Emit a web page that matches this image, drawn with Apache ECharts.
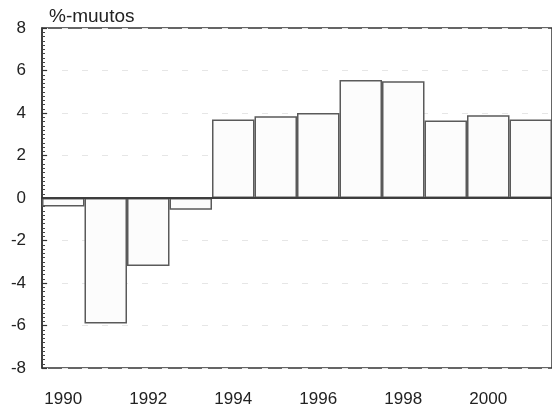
<!DOCTYPE html>
<html>
<head>
<meta charset="utf-8">
<script src="https://cdn.jsdelivr.net/npm/echarts@6/dist/echarts.min.js"></script>
<style>html,body{margin:0;padding:0;background:#fff}#c{width:552px;height:414px}</style>
</head>
<body>
<div id="c"></div>
<script>
var years = ['1990','1991','1992','1993','1994','1995','1996','1997','1998','1999','2000','2001'];
var changes = [-0.4, -5.9, -3.2, -0.55, 3.7, 3.85, 4.0, 5.55, 5.5, 3.65, 3.9, 3.7];
var yTicks = {min: -8, max: 8, interval: 2};
var unitLabel = '%-muutos';

var chart = echarts.init(document.getElementById('c'), null, {renderer: 'canvas'});
chart.setOption({
  animation: false,
  backgroundColor: '#fff',
  grid: {left: 42, right: -2, top: 28, bottom: 46, show: true, borderColor: '#333', borderWidth: 1.5, backgroundColor: 'transparent'},
  title: {text: unitLabel, left: 44, top: 2, textStyle: {fontFamily: 'Liberation Sans', fontSize: 19, fontWeight: 'normal', color: '#222'}},
  xAxis: {
    type: 'category', data: years,
    axisLine: {show: true, lineStyle: {color: '#333', width: 1.5}},
    axisTick: {show: false},
    axisLabel: {interval: 1, margin: 23, fontFamily: 'Liberation Sans', fontSize: 17, color: '#222'},
    splitLine: {show: false}
  },
  yAxis: {
    type: 'value', min: yTicks.min, max: yTicks.max, interval: yTicks.interval,
    axisLine: {show: true, lineStyle: {color: '#333', width: 1.5}},
    axisTick: {show: true, inside: true, length: 5, lineStyle: {color: '#333', width: 1.2}},
    minorTick: {show: true, splitNumber: 10, length: 3, lineStyle: {color: '#444', width: 1}},
    axisLabel: {margin: 16, fontFamily: 'Liberation Sans', fontSize: 17, color: '#222'},
    splitLine: {show: true, lineStyle: {color: '#e6e6e6', type: [6, 14], width: 1}}
  },
  series: [{
    type: 'bar', data: changes, barCategoryGap: '0%',
    itemStyle: {color: '#fcfcfc', borderColor: '#5a5a5a', borderWidth: 1.5},
    markLine: {silent: true, symbol: 'none', label: {show: false},
      lineStyle: {color: '#333', width: 1.5, type: 'solid'},
      data: [{yAxis: 0}]}
  }]
});
</script>
</body>
</html>
